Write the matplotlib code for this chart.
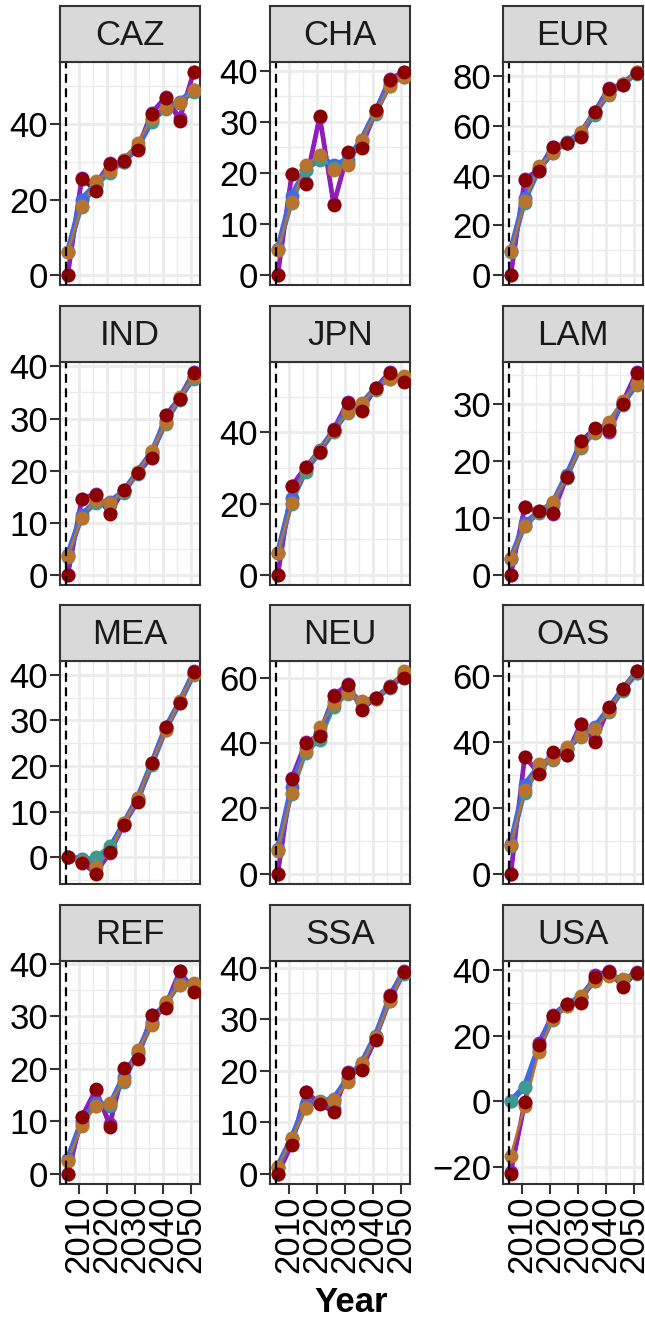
import matplotlib
matplotlib.use("Agg")
import matplotlib.pyplot as plt
from matplotlib.ticker import MultipleLocator, FixedLocator

plt.rcParams["font.family"] = ["Liberation Sans", "DejaVu Sans"]

years = [2006, 2011, 2016, 2021, 2026, 2031, 2036, 2041, 2046, 2051]
regions = ["CAZ", "CHA", "EUR", "IND", "JPN", "LAM",
           "MEA", "NEU", "OAS", "REF", "SSA", "USA"]
y_steps = [20, 10, 20, 10, 20, 10, 10, 20, 20, 10, 10, 20]
x_ticks = [2010, 2020, 2030, 2040, 2050]

darkred = {
    "CAZ": [0, 25.4, 22.3, 29.4, 30.3, 33.1, 42.8, 47.0, 40.9, 53.8],
    "CHA": [0, 19.7, 17.8, 31.1, 13.7, 24.0, 24.9, 32.2, 38.2, 39.7],
    "EUR": [0, 38.3, 41.9, 51.7, 53.0, 55.4, 65.7, 75.0, 76.4, 81.4],
    "IND": [0, 14.6, 15.4, 11.7, 16.3, 19.5, 22.4, 30.6, 33.8, 38.7],
    "JPN": [0, 24.9, 30.3, 34.4, 40.6, 48.3, 46.0, 52.5, 56.7, 54.1],
    "LAM": [0, 11.9, 11.1, 10.9, 17.2, 23.4, 25.7, 25.3, 30.0, 35.4],
    "MEA": [0, -1.2, -3.6, 1.1, 7.2, 12.1, 20.7, 28.6, 33.8, 40.6],
    "NEU": [0, 29.0, 40.0, 42.3, 54.4, 57.9, 50.1, 53.8, 57.2, 59.9],
    "OAS": [0, 35.6, 30.2, 36.9, 36.1, 45.4, 39.9, 50.7, 56.2, 61.5],
    "REF": [0, 10.8, 16.1, 9.0, 20.2, 21.8, 30.2, 31.5, 38.6, 34.6],
    "SSA": [0, 5.6, 15.9, 13.5, 11.9, 19.5, 20.2, 25.9, 34.4, 39.1],
    "USA": [-22.2, -0.3, 17.3, 26.2, 29.7, 30.0, 38.1, 39.6, 34.9, 39.3],
}
purple = {
    "CAZ": [0, 25.6, 24.0, 29.6, 30.0, 33.6, 43.0, 47.2, 41.5, 53.8],
    "CHA": [0, 19.7, 18.0, 31.0, 13.8, 23.8, 25.2, 32.0, 38.4, 39.7],
    "EUR": [0, 38.5, 42.5, 51.7, 53.0, 56.0, 65.7, 75.3, 76.8, 81.6],
    "IND": [0, 14.6, 15.6, 11.9, 16.3, 19.5, 22.8, 30.6, 34.0, 38.9],
    "JPN": [0, 25.0, 30.3, 34.8, 40.8, 48.6, 46.3, 52.5, 56.9, 54.3],
    "LAM": [0, 11.9, 11.0, 10.7, 17.2, 23.4, 25.5, 25.0, 30.2, 35.5],
    "MEA": [0, -1.0, -3.4, 1.0, 7.2, 12.3, 20.7, 28.6, 34.0, 40.8],
    "NEU": [0, 29.2, 40.2, 42.5, 54.6, 58.0, 50.5, 53.8, 57.4, 60.2],
    "OAS": [0, 35.6, 30.5, 36.5, 36.0, 45.4, 40.5, 50.2, 56.2, 61.5],
    "REF": [0, 10.8, 16.0, 9.5, 20.0, 22.0, 30.2, 32.0, 38.6, 35.0],
    "SSA": [0, 5.8, 15.9, 13.7, 12.5, 19.7, 20.5, 26.5, 34.6, 39.3],
    "USA": [-21.5, -0.5, 17.8, 26.5, 29.8, 30.5, 38.5, 39.8, 35.5, 39.5],
}
orange = {
    "CAZ": [6.2, 18.3, 24.9, 27.6, 30.6, 35.1, 41.5, 44.4, 45.6, 49.0],
    "CHA": [4.9, 14.2, 21.5, 23.5, 20.5, 21.5, 26.5, 31.8, 37.0, 38.8],
    "EUR": [9.6, 29.6, 43.7, 49.3, 53.0, 57.7, 65.7, 73.0, 77.0, 81.7],
    "IND": [3.7, 11.0, 14.4, 13.8, 16.1, 19.7, 23.8, 29.2, 34.1, 37.9],
    "JPN": [6.2, 20.1, 30.1, 34.9, 40.5, 45.8, 48.3, 52.2, 55.1, 55.7],
    "LAM": [2.9, 8.6, 11.1, 12.7, 17.2, 22.4, 25.1, 26.7, 30.5, 33.4],
    "MEA": [0, -0.9, -2.0, 1.2, 7.5, 13.0, 20.7, 28.0, 34.2, 40.2],
    "NEU": [7.3, 24.6, 37.7, 44.8, 52.1, 55.2, 52.9, 53.6, 57.2, 62.0],
    "OAS": [8.9, 25.3, 33.4, 34.8, 38.6, 41.9, 43.9, 49.4, 56.0, 61.5],
    "REF": [2.5, 9.2, 13.0, 13.5, 17.8, 23.5, 28.3, 32.8, 35.9, 36.3],
    "SSA": [1.3, 6.9, 12.7, 13.9, 14.3, 17.8, 21.4, 26.5, 33.6, 39.1],
    "USA": [-16.6, -1.3, 15.1, 25.2, 29.2, 32.2, 36.8, 38.3, 37.3, 39.3],
}
blue = {
    "CAZ": [6.0, 20.0, 24.0, 28.0, 30.5, 34.0, 41.0, 44.5, 46.0, 49.0],
    "CHA": [5.0, 15.5, 20.5, 23.0, 21.5, 22.5, 26.5, 32.0, 37.5, 39.2],
    "EUR": [9.5, 31.0, 42.5, 50.0, 53.5, 57.0, 65.5, 73.5, 77.0, 81.5],
    "IND": [3.8, 11.5, 14.0, 14.0, 16.0, 19.8, 23.5, 29.5, 34.0, 38.0],
    "JPN": [6.0, 21.5, 29.5, 35.0, 40.5, 46.5, 48.0, 52.5, 55.5, 55.5],
    "LAM": [2.8, 9.0, 11.0, 12.5, 17.5, 22.8, 25.0, 26.5, 30.0, 33.5],
    "MEA": [0, -0.3, -0.8, 1.8, 7.4, 13.0, 20.5, 28.3, 34.0, 40.3],
    "NEU": [7.5, 26.5, 38.5, 43.0, 53.0, 56.0, 52.5, 53.8, 57.0, 61.0],
    "OAS": [9.0, 27.0, 32.5, 35.5, 38.0, 42.0, 44.5, 50.0, 56.0, 61.0],
    "REF": [2.8, 10.0, 13.5, 13.0, 18.5, 23.0, 29.0, 32.5, 36.5, 36.0],
    "SSA": [1.4, 7.0, 13.5, 14.0, 14.5, 18.5, 21.5, 26.8, 34.0, 39.2],
    "USA": [0, 4.5, 16.5, 26.0, 29.5, 32.0, 37.0, 38.8, 37.0, 39.3],
}
teal = {
    "CAZ": [6.0, 18.0, 23.5, 27.0, 30.0, 34.0, 40.5, 44.0, 45.5, 48.5],
    "CHA": [4.8, 14.0, 20.5, 22.5, 21.0, 22.0, 26.0, 31.5, 37.0, 38.8],
    "EUR": [9.2, 29.0, 42.0, 49.0, 53.0, 56.5, 64.5, 72.5, 76.5, 81.0],
    "IND": [3.5, 11.0, 13.8, 13.5, 15.8, 19.4, 23.2, 29.0, 33.6, 37.6],
    "JPN": [6.0, 20.0, 28.8, 34.2, 40.0, 45.5, 47.8, 52.0, 55.0, 55.3],
    "LAM": [2.7, 8.5, 10.8, 12.3, 17.0, 22.2, 24.8, 26.3, 29.8, 33.2],
    "MEA": [0, -0.5, 0.1, 2.5, 7.5, 12.8, 20.3, 27.8, 33.8, 40.0],
    "NEU": [7.0, 24.5, 37.0, 41.0, 51.0, 55.0, 52.5, 53.5, 56.8, 61.5],
    "OAS": [8.5, 24.5, 32.0, 34.5, 37.8, 41.5, 44.0, 49.0, 55.5, 61.0],
    "REF": [2.5, 9.5, 13.0, 13.2, 17.5, 23.0, 28.5, 32.5, 36.0, 36.0],
    "SSA": [1.2, 6.8, 12.8, 14.2, 14.0, 18.0, 21.2, 26.3, 33.5, 38.8],
    "USA": [0, 4.3, 15.5, 25.0, 29.0, 31.8, 36.8, 38.5, 37.0, 39.0],
}

# line drawing order, colour, line width
series = [
    (darkred, "#8B0000", 2.6),
    (teal, "#3D9A91", 2.8),
    (purple, "#8E1EBA", 3.4),
    (blue, "#4169E1", 4.4),
    (orange, "#B8732E", 1.8),
]
# points go on top of all lines: purple, blue, teal, orange, darkred
point_order = [2, 3, 1, 4, 0]

W, H = 645, 1324
fig = plt.figure(figsize=(W / 100, H / 100), dpi=100)

col_left = [60, 270, 503]
col_width = 140
row_top = [62, 362, 661, 961]
panel_h = 223
strip_h = 56
grey = "#333333"

for i, reg in enumerate(regions):
    r, c = divmod(i, 3)
    x0 = col_left[c] / W
    y0 = 1 - (row_top[r] + panel_h) / H
    ax = fig.add_axes([x0, y0, col_width / W, panel_h / H])
    sax = fig.add_axes([x0, 1 - row_top[r] / H, col_width / W, strip_h / H])

    for data, color, lw in series:
        ax.plot(years, data[reg], color=color, lw=lw, solid_capstyle="butt",
                zorder=3)
    for k in point_order:
        data, color, lw = series[k]
        ax.plot(years, data[reg], "o", color=color, ms=10, mew=0, zorder=4)

    ax.axvline(years[0] - 0.5, color="black", lw=1.6, dashes=(4, 2.5), zorder=5)
    ax.margins(x=0.05, y=0.05)

    ax.xaxis.set_major_locator(FixedLocator(x_ticks))
    ax.xaxis.set_minor_locator(MultipleLocator(5))
    ax.yaxis.set_major_locator(MultipleLocator(y_steps[i]))
    ax.yaxis.set_minor_locator(MultipleLocator(y_steps[i] / 2))
    ax.grid(True, which="major", color="#EBEBEB", lw=2.0, zorder=0)
    ax.grid(True, which="minor", color="#EBEBEB", lw=1.0, zorder=0)
    ax.set_axisbelow(True)

    for sp in ax.spines.values():
        sp.set_color(grey)
        sp.set_linewidth(1.5)
    ax.tick_params(axis="y", which="major", length=7, width=1.5, color=grey,
                   labelsize=25, pad=1.5, labelcolor="black")
    ax.tick_params(which="minor", length=0)
    if r == 3:
        ax.tick_params(axis="x", which="major", length=7, width=1.5, color=grey,
                       labelsize=25, pad=1.5, labelcolor="black",
                       labelrotation=90)
    else:
        ax.tick_params(axis="x", which="major", length=0, labelbottom=False)

    sax.set_facecolor("#D9D9D9")
    sax.set_xticks([])
    sax.set_yticks([])
    for sp in sax.spines.values():
        sp.set_color(grey)
        sp.set_linewidth(1.5)
    sax.text(0.5, 0.47, reg, ha="center", va="center", fontsize=25,
             color="#1A1A1A", transform=sax.transAxes)

fig.text(351.5 / W, 1 - 1302 / H, "Year", ha="center", va="center",
         fontsize=25, fontweight="bold")

fig.savefig("out.png", dpi=100)
